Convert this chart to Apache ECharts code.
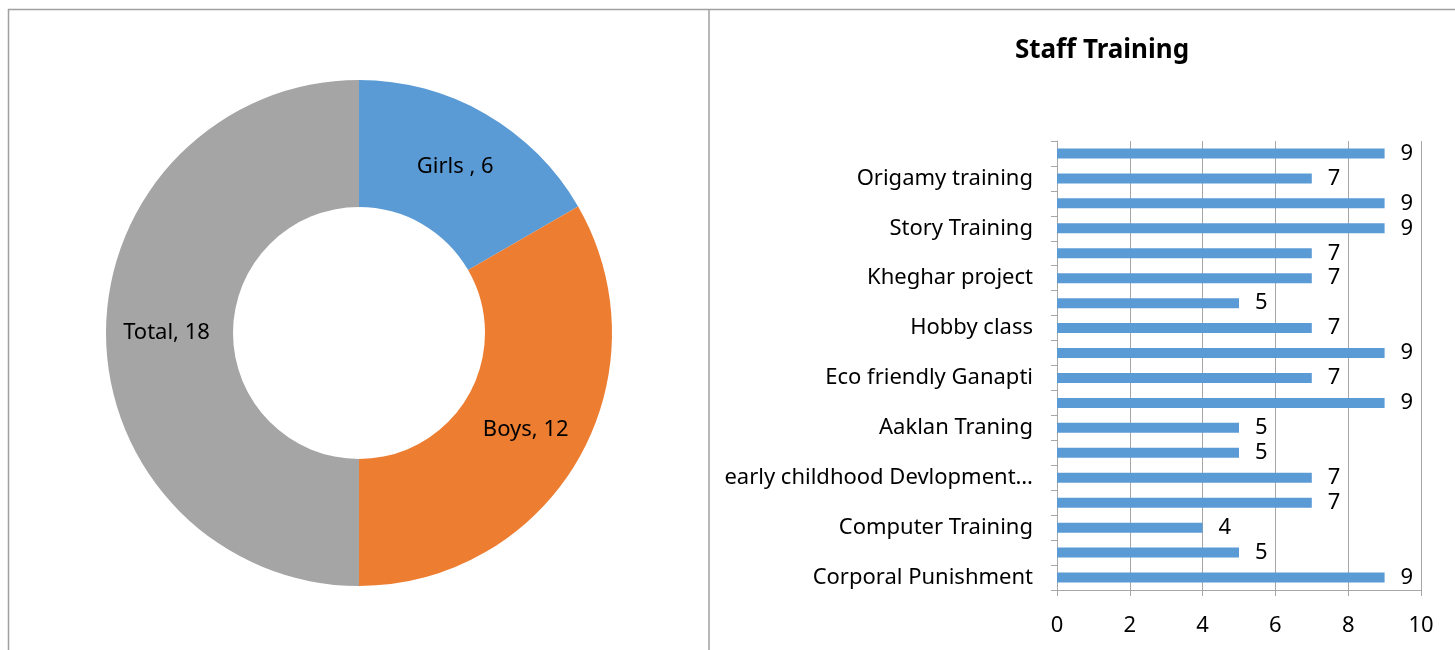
<!DOCTYPE html>
<html>
<head>
<meta charset="utf-8">
<script src="https://cdn.jsdelivr.net/npm/echarts@6/dist/echarts.min.js"></script>
<style>
html,body{margin:0;padding:0;background:#fff;}
#c{width:1455px;height:650px;}
</style>
</head>
<body>
<div id="c"></div>
<script>
// Donut data
var pieNames = ['Girls ', 'Boys', 'Total'];
var pieValues = [6, 12, 18];
var pieColors = ['#5B9BD5', '#ED7D31', '#A5A5A5'];

// Bar chart data (bottom to top)
var barCategories = ['Corporal Punishment', '', 'Computer Training', '', 'early childhood Devlopment…', '',
  'Aaklan Traning', '', 'Eco friendly Ganapti', '', 'Hobby class', '', 'Kheghar project', '',
  'Story Training', '', 'Origamy training', ''];
var barValues = [9, 5, 4, 7, 7, 5, 5, 9, 7, 9, 7, 5, 7, 7, 9, 9, 7, 9];
var xTicks = [0, 2, 4, 6, 8, 10];

var FONT = 'Noto Sans';
var chart = echarts.init(document.getElementById('c'));
chart.setOption({
  animation: false,
  textStyle: {fontFamily: FONT},
  title: {
    text: 'Staff Training', left: 1097, top: 33, textAlign: 'center',
    textStyle: {fontSize: 26, fontWeight: 'bold', color: '#000', fontFamily: FONT}
  },
  graphic: [
    {type: 'line', shape: {x1: 8, y1: 9.5, x2: 1455, y2: 9.5}, style: {stroke: '#A0A0A0', lineWidth: 1.5}},
    {type: 'line', shape: {x1: 8.5, y1: 9, x2: 8.5, y2: 650}, style: {stroke: '#A0A0A0', lineWidth: 1.5}},
    {type: 'line', shape: {x1: 709, y1: 9, x2: 709, y2: 650}, style: {stroke: '#A0A0A0', lineWidth: 1.5}}
  ],
  grid: {left: 1057, right: 34, top: 141, bottom: 60, containLabel: false},
  xAxis: {
    type: 'value', min: 0, max: 10, interval: 2,
    axisLine: {show: true, lineStyle: {color: '#A6A6A6'}},
    axisTick: {show: true, length: 6, lineStyle: {color: '#A6A6A6'}},
    axisLabel: {fontSize: 22, color: '#000', margin: 25, fontFamily: FONT,
      formatter: function (v) { return xTicks.indexOf(v) >= 0 ? String(v) : ''; }},
    splitLine: {show: true, lineStyle: {color: '#A6A6A6'}}
  },
  yAxis: {
    type: 'category', data: barCategories,
    axisLine: {show: true, lineStyle: {color: '#A6A6A6'}},
    axisTick: {show: true, interval: 0, length: 6, lineStyle: {color: '#A6A6A6'}},
    axisLabel: {interval: 1, fontSize: 22, color: '#000', margin: 24, fontFamily: FONT}
  },
  series: [
    {
      type: 'pie', radius: [126, 253], center: [359, 333],
      startAngle: 90, clockwise: true,
      data: pieNames.map(function (n, i) {
        return {name: n, value: pieValues[i], itemStyle: {color: pieColors[i]}};
      }),
      label: {show: true, position: 'inside', formatter: '{b}, {c}', fontSize: 22, color: '#000', fontFamily: FONT},
      labelLine: {show: false},
      emphasis: {disabled: true}
    },
    {
      type: 'bar', data: barValues, barWidth: 10,
      itemStyle: {color: '#5B9BD5'},
      label: {show: true, position: 'right', distance: 16, fontSize: 22, color: '#000', fontFamily: FONT}
    }
  ]
});
</script>
</body>
</html>
